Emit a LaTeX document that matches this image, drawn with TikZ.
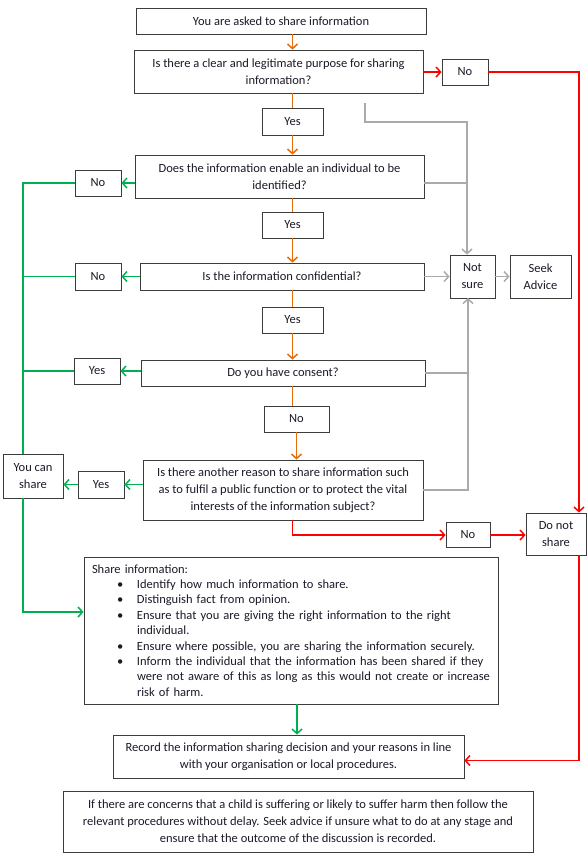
\documentclass[tikz,border=0pt]{standalone}
\usepackage{fontspec}
\setmainfont{Carlito}
\usetikzlibrary{arrows.meta}
\definecolor{cOr}{RGB}{228,108,10}
\definecolor{cGr}{RGB}{0,176,80}
\definecolor{cRd}{RGB}{255,0,0}
\definecolor{cGy}{RGB}{170,170,170}
\definecolor{cBd}{RGB}{60,60,60}
\definecolor{cTx}{RGB}{30,25,40}
\newcommand{\bul}{\noindent\llap{\makebox[20pt][l]{•}}}
\begin{document}
\begin{tikzpicture}[x=1pt,y=-1pt,
  box/.style={draw=cBd, line width=0.9pt, inner sep=0pt, align=center, text=cTx,
    font=\fontsize{12.5}{17}\selectfont},
  tip/.style={-{Straight Barb[length=4.5pt,width=10pt]}},
  oline/.style={draw=cOr, line width=1.5pt},
  rline/.style={draw=cRd, line width=1.5pt},
  gline/.style={draw=cGr, line width=1.5pt},
  yline/.style={draw=cGy, line width=1.5pt},
]
\useasboundingbox[fill=white] (0,0) rectangle (588,855);

% nodes
\node[box, minimum width=290pt, minimum height=26pt] (q0) at (281,21) {You are asked to share information};
\node[box, minimum width=289pt, minimum height=43pt] (q1) at (278.5,71.5) {Is there a clear and legitimate purpose for sharing\\information?};
\node[box, minimum width=46pt, minimum height=26pt] (no1) at (465,72) {No};
\node[box, minimum width=61pt, minimum height=27pt] (yes1) at (292.5,121.5) {Yes};
\node[box, minimum width=289pt, minimum height=43pt] (q2) at (279.5,176.5) {Does the information enable an individual to be\\identified?};
\node[box, minimum width=46pt, minimum height=26pt] (no2) at (98,183) {No};
\node[box, minimum width=61pt, minimum height=26pt] (yes2) at (292.5,225) {Yes};
\node[box, minimum width=284pt, minimum height=27pt] (q3) at (282,276.5) {Is the information confidential?};
\node[box, minimum width=46pt, minimum height=27pt] (no3) at (98,276.5) {No};
\node[box, minimum width=45pt, minimum height=43pt] (notsure) at (472.5,276.5) {Not\\sure};
\node[box, minimum width=61pt, minimum height=43pt] (seek) at (540.5,276.5) {Seek\\Advice};
\node[box, minimum width=61pt, minimum height=26pt] (yes3) at (292.5,320) {Yes};
\node[box, minimum width=284pt, minimum height=26pt] (q4) at (283,373) {Do you have consent?};
\node[box, minimum width=46pt, minimum height=26pt] (yes4) at (97,371) {Yes};
\node[box, minimum width=65pt, minimum height=26pt] (no4) at (296.5,419) {No};
\node[box, minimum width=280pt, minimum height=60pt] (q5) at (283,490) {Is there another reason to share information such\\as to fulfil a public function or to protect the vital\\interests of the information subject?};
\node[box, minimum width=46pt, minimum height=27pt] (yes5) at (101,484.5) {Yes};
\node[box, minimum width=60pt, minimum height=44pt] (canshare) at (33,476) {You can\\share};
\node[box, minimum width=44pt, minimum height=25pt] (no5) at (468,535) {No};
\node[box, minimum width=60pt, minimum height=42pt] (dontshare) at (556,534) {Do not\\share};
\node[box, minimum width=414pt, minimum height=147pt, text width=398pt, align=left,
  font=\fontsize{12.5}{15.4}\selectfont] (sharebox) at (291,630.5) {%
  \noindent Share information:\par
  \leftskip=45pt
  \bul Identify how much information to share.\par
  \bul Distinguish fact  from opinion.\par
  \bul Ensure that you are giving the right information to the right\\individual.\par
  \bul Ensure where possible, you are sharing the information securely.\par
  \bul Inform the individual that the information has been shared if they\\were not aware  of this as long as this would not create or increase\\risk of harm.\par};
\node[box, minimum width=351pt, minimum height=43pt] (record) at (288.5,756.5) {Record the information sharing decision and your reasons in line\\with your organisation or local procedures.};
\node[box, minimum width=470pt, minimum height=61pt] (note) at (298,821.5) {If there are concerns that a child is suffering or likely to suffer harm then follow the\\relevant procedures without delay. Seek advice if unsure what to do at any stage and\\ensure that the outcome of the discussion is recorded.};

% helper coordinates
\coordinate (rcol) at (579,0);
\coordinate (gcol) at (23,0);
\coordinate (gstart) at (365,103);
\coordinate (gcorner) at (467,122);
\coordinate (gbot) at (468,298);

% orange flow
\draw[oline, tip] (q0.south -| yes1) -- (q1.north -| yes1);
\draw[oline] (q1.south -| yes1) -- (yes1.north);
\draw[oline, tip] (yes1.south) -- (q2.north -| yes1);
\draw[oline] (q2.south -| yes2) -- (yes2.north);
\draw[oline, tip] (yes2.south) -- (q3.north -| yes2);
\draw[oline] (q3.south -| yes3) -- (yes3.north);
\draw[oline, tip] (yes3.south) -- (q4.north -| yes3);
\draw[oline] (q4.south -| yes3) -- (no4.north -| yes3);
\draw[oline, tip] (no4.south) -- (q5.north -| no4);

% red flow
\draw[rline, tip] (no1.west -| q1.east) -- (no1.west);
\draw[rline, tip] (no1.east) -| (dontshare.north -| rcol);
\draw[rline, tip] (q5.south -| yes3) |- (no5.west);
\draw[rline, tip] (no5.east) -- (no5.east -| dontshare.west);
\draw[rline, tip] (dontshare.south -| rcol) |- ([yshift=-4pt]record.east);

% gray flow
\draw[yline, tip] (gstart) |- (gcorner) -- (notsure.north -| gcorner);
\draw[yline] ([yshift=-6.5pt]q2.east) -- ([yshift=-6.5pt]q2.east -| gcorner);
\draw[yline, tip] (q3.east) -- (notsure.west |- q3.east);
\draw[yline, tip] (notsure.east |- seek) -- (seek.west);
\draw[yline] (q4.east) -- (q4.east -| gbot);
\draw[yline, tip] (q5.east) -| (gbot);

% green flow
\draw[gline, tip] (no2.east -| q2.west) -- (no2.east);
\draw[gline] (no2.west) -| (canshare.north -| gcol);
\draw[gline, tip] (no3.east -| q3.west) -- (no3.east);
\draw[gline] (no3.west) -- (no3.west -| gcol);
\draw[gline, tip] (yes4.east -| q4.west) -- (yes4.east);
\draw[gline] (yes4.west) -- (yes4.west -| gcol);
\draw[gline, tip] (yes5.east -| q5.west) -- (yes5.east);
\draw[gline, tip] (yes5.west) -- (yes5.west -| canshare.east);
\draw[gline, tip] (canshare.south -| gcol) |- ([yshift=18.5pt]sharebox.west);
\draw[gline, tip] ([xshift=6pt]sharebox.south) -- ([xshift=6pt]sharebox.south |- record.north);
\end{tikzpicture}
\end{document}
